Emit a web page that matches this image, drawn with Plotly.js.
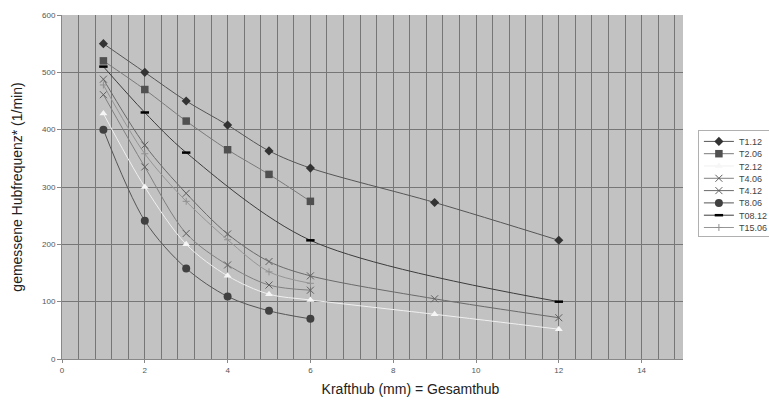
<!DOCTYPE html>
<html><head><meta charset="utf-8">
<script src="https://cdn.plot.ly/plotly-3.0.1.min.js"></script>
<style>html,body{margin:0;padding:0;background:#fff}#c{width:769px;height:401px}</style>
</head><body><div id="c"></div>
<script>
const seriesNames = ["T1.12","T2.06","T2.12","T4.06","T4.12","T8.06","T08.12","T15.06"];
const x_T1_12 = [1,2,3,4,5,6,9,12];
const y_T1_12 = [550,500,450,408,363,333,273,207];
const x_T2_06 = [1,2,3,4,5,6];
const y_T2_06 = [520,470,415,365,322,275];
const x_T2_12 = [1,2,3,4,5,6,9,12];
const y_T2_12 = [428,300,200,145,113,103,78,52];
const x_T4_06 = [1,2,3,4,5,6];
const y_T4_06 = [461,335,219,164,129,120];
const x_T4_12 = [1,2,3,4,5,6,9,12];
const y_T4_12 = [488,373,289,218,170,145,105,72];
const x_T8_06 = [1,2,3,4,5,6];
const y_T8_06 = [400,241,158,109,84,70];
const x_T08_12 = [1,2,3,6,12];
const y_T08_12 = [510,430,360,207,100];
const x_T15_06 = [1,2,3,4,5,6];
const y_T15_06 = [478,358,275,208,152,132];
const xTickVals = [0,2,4,6,8,10,12,14];
const yTickVals = [0,100,200,300,400,500,600];

const xs = [x_T1_12,x_T2_06,x_T2_12,x_T4_06,x_T4_12,x_T8_06,x_T08_12,x_T15_06];
const ys = [y_T1_12,y_T2_06,y_T2_12,y_T4_06,y_T4_12,y_T8_06,y_T08_12,y_T15_06];
const styles = [
  {lc:'#555555', sym:'diamond', mc:'#333333', ms:7, mlw:0},
  {lc:'#7a7a7a', sym:'square', mc:'#505050', ms:7.5, mlw:0},
  {lc:'#f0f0f0', sym:'triangle-up', mc:'#f6f6f6', ms:7, mlw:0},
  {lc:'#808080', sym:'x-thin-open', mc:'#606060', ms:7, mlw:1},
  {lc:'#6a6a6a', sym:'x-thin-open', mc:'#606060', ms:7, mlw:1},
  {lc:'#555555', sym:'circle', mc:'#404040', ms:8, mlw:0},
  {lc:'#3c3c3c', sym:'line-ew-open', mc:'#000000', ms:6, mlw:2.5},
  {lc:'#959595', sym:'cross-thin-open', mc:'#909090', ms:5, mlw:1}
];
const traces = seriesNames.map((n,i)=>({
  type:'scatter', mode:'lines+markers', name:n, x:xs[i], y:ys[i],
  line:{color:styles[i].lc, width:1, shape:'spline', smoothing:0.9},
  marker:{symbol:styles[i].sym, color:styles[i].mc, size:styles[i].ms,
          line:{color:styles[i].mc, width:styles[i].mlw}}
}));
const grid = '#767676';
const layout = {
  width:769, height:401,
  margin:{l:62, r:86, t:15, b:42, autoexpand:false},
  paper_bgcolor:'#ffffff', plot_bgcolor:'#c2c2c2',
  font:{family:'Liberation Sans, Arial, sans-serif', color:'#444'},
  xaxis:{range:[0,15], tickvals:xTickVals, showgrid:true, gridcolor:grid, gridwidth:1,
    minor:{dtick:0.4, showgrid:true, gridcolor:grid, gridwidth:1},
    zeroline:false, showline:true, linecolor:'#888', ticks:'outside', ticklen:3, tickcolor:'#888',
    tickfont:{size:8, color:'#555'},
    title:{text:'Krafthub (mm) = Gesamthub', font:{size:14, color:'#222'}, standoff:10}},
  yaxis:{range:[0,600], tickvals:yTickVals, showgrid:true, gridcolor:grid, gridwidth:1,
    zeroline:false, showline:true, linecolor:'#888', ticks:'outside', ticklen:4, tickcolor:'#888',
    tickfont:{size:8, color:'#555'},
    title:{text:'gemessene Hubfrequenz* (1/min)', font:{size:14, color:'#222'}, standoff:16}},
  showlegend:true,
  legend:{x:1.024, y:0.666, xanchor:'left', yanchor:'top', bgcolor:'#ffffff',
    bordercolor:'#b0b0b0', borderwidth:1, font:{size:9, color:'#444'},
    itemwidth:30, tracegroupgap:0}
};
Plotly.newPlot('c', traces, layout, {staticPlot:true, displayModeBar:false}).then(gd=>{
  // compact legend rows (Excel-style spacing)
  const items = gd.querySelectorAll('.legend .traces');
  const step = 12.3;
  let y0 = null, x0 = 1;
  items.forEach((el,i)=>{
    const m = /translate\(([-\d.]+),\s*([-\d.]+)\)/.exec(el.getAttribute('transform')||'');
    if (m && y0 === null) { x0 = parseFloat(m[1]); y0 = parseFloat(m[2]) - 4; }
    el.setAttribute('transform', 'translate(' + x0 + ',' + (y0 + i*step) + ')');
  });
  const bg = gd.querySelector('.legend rect.bg');
  if (bg && y0 !== null) bg.setAttribute('height', y0 + (items.length-1)*step + 9);
  // shift x-axis title right as in the reference
  const xt = gd.querySelector('.g-xtitle text');
  if (xt) { xt.setAttribute('x', parseFloat(xt.getAttribute('x')) + 38); }
});
</script></body></html>
